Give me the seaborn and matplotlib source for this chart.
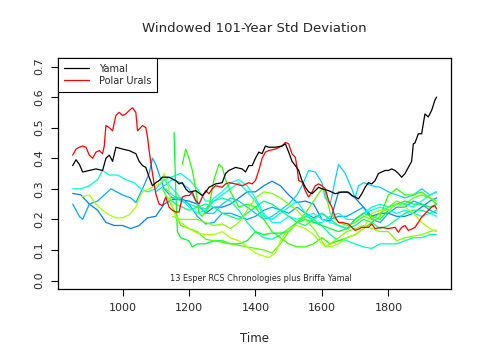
import matplotlib
matplotlib.use('Agg')
import matplotlib.pyplot as plt
import seaborn as sns

# Briffa Yamal and Polar Urals (highlighted)
yamal_yr = [850, 860, 870, 880, 900, 920, 940, 950, 960, 970, 980, 1000, 1020, 1040, 1050, 1060, 1070,
            1080, 1090, 1100, 1110, 1120, 1140, 1160, 1170, 1180, 1190, 1200, 1220, 1240, 1250, 1260,
            1280, 1300, 1310, 1320, 1340, 1360, 1370, 1380, 1390, 1400, 1410, 1420, 1430, 1440, 1460,
            1480, 1490, 1500, 1510, 1520, 1530, 1540, 1550, 1560, 1570, 1580, 1590, 1600, 1620, 1640,
            1660, 1680, 1690, 1700, 1710, 1720, 1730, 1740, 1750, 1760, 1770, 1780, 1790, 1800, 1810,
            1820, 1830, 1840, 1850, 1860, 1870, 1875, 1880, 1890, 1900, 1910, 1920, 1930, 1940, 1945]
yamal_sd = [0.376, 0.395, 0.38, 0.355, 0.36, 0.365, 0.36, 0.40, 0.41, 0.39, 0.436, 0.43, 0.425, 0.415,
            0.39, 0.376, 0.37, 0.338, 0.31, 0.32, 0.327, 0.338, 0.338, 0.327, 0.316, 0.32, 0.30, 0.289,
            0.294, 0.278, 0.289, 0.305, 0.316, 0.32, 0.35, 0.36, 0.37, 0.365, 0.355, 0.376, 0.376, 0.40,
            0.42, 0.415, 0.44, 0.436, 0.436, 0.44, 0.447, 0.42, 0.39, 0.376, 0.36, 0.327, 0.305, 0.29,
            0.284, 0.294, 0.305, 0.30, 0.294, 0.284, 0.289, 0.289, 0.278, 0.273, 0.267, 0.284, 0.305,
            0.32, 0.316, 0.327, 0.35, 0.355, 0.36, 0.36, 0.365, 0.36, 0.35, 0.338, 0.35, 0.37, 0.39,
            0.447, 0.45, 0.48, 0.48, 0.545, 0.535, 0.556, 0.59, 0.60]

urals_yr = [850, 860, 870, 880, 890, 900, 910, 920, 930, 940, 945, 950, 960, 970, 980, 990, 1000, 1010,
            1020, 1030, 1040, 1045, 1050, 1060, 1070, 1075, 1080, 1090, 1100, 1110, 1120, 1130, 1140,
            1150, 1160, 1170, 1180, 1190, 1200, 1210, 1220, 1230, 1240, 1250, 1260, 1270, 1280, 1300,
            1310, 1320, 1340, 1360, 1380, 1390, 1400, 1410, 1420, 1430, 1440, 1460, 1480, 1490, 1500,
            1510, 1520, 1525, 1530, 1540, 1550, 1560, 1570, 1580, 1590, 1600, 1610, 1620, 1630, 1640,
            1650, 1660, 1680, 1690, 1700, 1710, 1720, 1740, 1750, 1760, 1780, 1800, 1820, 1830, 1840,
            1850, 1860, 1870, 1880, 1890, 1900, 1910, 1920, 1930, 1940, 1945]
urals_sd = [0.41, 0.43, 0.436, 0.44, 0.436, 0.41, 0.40, 0.42, 0.425, 0.415, 0.44, 0.507, 0.50, 0.49,
            0.54, 0.55, 0.54, 0.545, 0.556, 0.565, 0.55, 0.49, 0.495, 0.507, 0.50, 0.47, 0.425, 0.35,
            0.284, 0.25, 0.245, 0.273, 0.24, 0.23, 0.224, 0.224, 0.273, 0.278, 0.278, 0.289, 0.262,
            0.25, 0.273, 0.294, 0.284, 0.30, 0.31, 0.305, 0.316, 0.32, 0.316, 0.31, 0.32, 0.316, 0.327,
            0.36, 0.40, 0.42, 0.425, 0.43, 0.44, 0.452, 0.447, 0.414, 0.403, 0.37, 0.327, 0.322, 0.294,
            0.273, 0.289, 0.31, 0.316, 0.31, 0.30, 0.262, 0.24, 0.207, 0.19, 0.19, 0.185, 0.174, 0.164,
            0.168, 0.174, 0.174, 0.185, 0.17, 0.174, 0.17, 0.174, 0.158, 0.174, 0.18, 0.164, 0.168,
            0.174, 0.19, 0.207, 0.218, 0.229, 0.24, 0.245, 0.234]

# other Esper RCS chronologies
e1_yr = [850, 875, 900, 925, 950, 975, 1000, 1025, 1050, 1075, 1100, 1125, 1150, 1175, 1200, 1225,
         1250, 1275, 1300, 1325, 1350, 1375, 1400, 1425, 1450, 1475, 1500, 1525, 1550, 1575, 1600,
         1625, 1650, 1675, 1700, 1725, 1750, 1775, 1800, 1825, 1850, 1875, 1900, 1925, 1945]
e1_sd = [0.285, 0.28, 0.25, 0.23, 0.19, 0.18, 0.18, 0.17, 0.18, 0.205, 0.21, 0.25, 0.265, 0.265, 0.26,
         0.25, 0.22, 0.24, 0.24, 0.25, 0.27, 0.29, 0.29, 0.31, 0.325, 0.31, 0.28, 0.255, 0.26, 0.25,
         0.20, 0.195, 0.29, 0.29, 0.27, 0.24, 0.21, 0.22, 0.22, 0.21, 0.21, 0.22, 0.24, 0.26, 0.27]

e2_yr = [850, 870, 880, 900, 925, 950, 965, 1000, 1025, 1040, 1060, 1080, 1090, 1100, 1125, 1150, 1175,
         1200, 1225, 1250, 1275, 1300, 1325, 1350, 1375, 1400, 1425, 1450, 1475, 1500, 1525, 1550,
         1575, 1600, 1625, 1650, 1675, 1700, 1725, 1750, 1775, 1800, 1825, 1850, 1875, 1900, 1925, 1945]
e2_sd = [0.25, 0.21, 0.20, 0.25, 0.26, 0.285, 0.30, 0.28, 0.27, 0.255, 0.30, 0.35, 0.40, 0.38, 0.30,
         0.27, 0.27, 0.25, 0.21, 0.185, 0.19, 0.22, 0.22, 0.21, 0.20, 0.21, 0.23, 0.24, 0.23, 0.22,
         0.24, 0.22, 0.205, 0.22, 0.20, 0.21, 0.21, 0.225, 0.24, 0.20, 0.19, 0.22, 0.24, 0.24, 0.26,
         0.25, 0.23, 0.22]

e3_yr = [1100, 1125, 1150, 1175, 1200, 1225, 1250, 1275, 1300, 1325, 1350, 1375, 1400, 1425, 1450,
         1475, 1500, 1525, 1540, 1560, 1580, 1600, 1610, 1625, 1640, 1650, 1670, 1690, 1700, 1710,
         1725, 1750, 1775, 1800, 1825, 1850, 1875, 1900, 1925, 1945]
e3_sd = [0.29, 0.31, 0.33, 0.32, 0.30, 0.25, 0.22, 0.22, 0.25, 0.27, 0.26, 0.24, 0.22, 0.20, 0.21,
         0.23, 0.25, 0.28, 0.31, 0.36, 0.355, 0.32, 0.27, 0.25, 0.33, 0.38, 0.35, 0.30, 0.27, 0.31,
         0.32, 0.31, 0.305, 0.29, 0.28, 0.27, 0.28, 0.30, 0.28, 0.29]

e4_yr = [1110, 1125, 1150, 1175, 1200, 1225, 1250, 1275, 1300, 1325, 1350, 1375, 1400, 1425, 1450,
         1475, 1500, 1525, 1550, 1575, 1600, 1625, 1650, 1675, 1700, 1725, 1750, 1775, 1800, 1825,
         1850, 1875, 1900, 1925, 1945]
e4_sd = [0.34, 0.33, 0.30, 0.27, 0.24, 0.22, 0.23, 0.27, 0.29, 0.32, 0.33, 0.31, 0.27, 0.22, 0.19,
         0.19, 0.21, 0.20, 0.21, 0.22, 0.20, 0.19, 0.18, 0.17, 0.20, 0.22, 0.23, 0.24, 0.23, 0.22,
         0.23, 0.22, 0.21, 0.22, 0.21]

e5_yr = [850, 875, 900, 925, 940, 960, 985, 1010, 1035, 1055, 1075, 1100, 1125, 1150, 1175, 1200,
         1225, 1250, 1275, 1300, 1325, 1350, 1375, 1400, 1425, 1450, 1475, 1500, 1525, 1550, 1575,
         1600, 1625, 1650, 1675, 1700, 1725, 1750, 1775, 1800, 1825, 1850, 1875, 1900, 1925, 1945]
e5_sd = [0.30, 0.30, 0.31, 0.33, 0.36, 0.345, 0.345, 0.33, 0.32, 0.30, 0.29, 0.30, 0.33, 0.34, 0.35,
         0.33, 0.30, 0.26, 0.26, 0.28, 0.30, 0.32, 0.29, 0.26, 0.21, 0.20, 0.22, 0.24, 0.26, 0.22,
         0.19, 0.19, 0.21, 0.22, 0.20, 0.20, 0.22, 0.24, 0.25, 0.24, 0.25, 0.25, 0.24, 0.26, 0.28, 0.29]

e6_yr = [1130, 1150, 1175, 1200, 1225, 1250, 1275, 1300, 1325, 1350, 1375, 1400, 1425, 1450, 1475,
         1500, 1525, 1550, 1575, 1600, 1625, 1650, 1675, 1700, 1725, 1750, 1775, 1800, 1825, 1850,
         1875, 1900, 1925, 1945]
e6_sd = [0.30, 0.28, 0.26, 0.25, 0.24, 0.235, 0.26, 0.27, 0.26, 0.23, 0.19, 0.16, 0.14, 0.135, 0.15,
         0.17, 0.19, 0.21, 0.20, 0.18, 0.15, 0.13, 0.13, 0.12, 0.11, 0.105, 0.12, 0.12, 0.12, 0.13,
         0.14, 0.14, 0.15, 0.15]

e7_yr = [1140, 1160, 1180, 1200, 1225, 1250, 1275, 1300, 1325, 1350, 1375, 1400, 1425, 1450, 1475,
         1500, 1525, 1550, 1575, 1600, 1625, 1650, 1675, 1700, 1725, 1750, 1775, 1800, 1825, 1850,
         1875, 1900, 1925, 1945]
e7_sd = [0.27, 0.25, 0.24, 0.23, 0.24, 0.25, 0.24, 0.22, 0.21, 0.20, 0.22, 0.24, 0.26, 0.25, 0.23,
         0.21, 0.19, 0.18, 0.20, 0.22, 0.20, 0.18, 0.17, 0.18, 0.20, 0.19, 0.17, 0.18, 0.20, 0.22,
         0.23, 0.23, 0.22, 0.23]

e8_yr = [1155, 1160, 1165, 1175, 1200, 1210, 1225, 1250, 1275, 1300, 1325, 1350, 1375, 1400, 1425,
         1450, 1475, 1500, 1525, 1550, 1575, 1600, 1625, 1650, 1675, 1700, 1725, 1750, 1775, 1800,
         1825, 1850, 1875, 1900, 1925, 1945]
e8_sd = [0.485, 0.30, 0.16, 0.14, 0.13, 0.11, 0.12, 0.12, 0.13, 0.13, 0.12, 0.12, 0.13, 0.16, 0.15,
         0.155, 0.155, 0.16, 0.19, 0.20, 0.19, 0.18, 0.17, 0.16, 0.17, 0.20, 0.22, 0.21, 0.20, 0.23,
         0.25, 0.26, 0.25, 0.25, 0.24, 0.25]

e9_yr = [1180, 1190, 1200, 1210, 1220, 1230, 1240, 1260, 1275, 1290, 1300, 1310, 1325, 1350, 1375,
         1400, 1425, 1450, 1475, 1500, 1525, 1550, 1575, 1600, 1625, 1650, 1675, 1700, 1725, 1750,
         1775, 1800, 1825, 1850, 1875, 1900, 1925, 1945]
e9_sd = [0.38, 0.43, 0.40, 0.36, 0.30, 0.22, 0.21, 0.24, 0.33, 0.38, 0.37, 0.33, 0.29, 0.24, 0.25,
         0.24, 0.20, 0.16, 0.14, 0.12, 0.11, 0.11, 0.12, 0.14, 0.12, 0.13, 0.14, 0.15, 0.17, 0.19,
         0.21, 0.28, 0.30, 0.28, 0.28, 0.29, 0.27, 0.25]

e10_yr = [1120, 1140, 1160, 1175, 1200, 1225, 1250, 1275, 1300, 1325, 1350, 1375, 1400, 1425, 1450,
          1475, 1500, 1525, 1550, 1575, 1600, 1610, 1625, 1650, 1675, 1700, 1725, 1750, 1775, 1800,
          1825, 1850, 1875, 1900, 1925, 1945]
e10_sd = [0.30, 0.26, 0.22, 0.18, 0.17, 0.16, 0.135, 0.13, 0.125, 0.12, 0.115, 0.11, 0.105, 0.10,
          0.09, 0.12, 0.16, 0.19, 0.22, 0.26, 0.30, 0.29, 0.22, 0.19, 0.18, 0.19, 0.21, 0.20, 0.22,
          0.24, 0.26, 0.25, 0.27, 0.28, 0.27, 0.26]

e11_yr = [1150, 1175, 1200, 1225, 1250, 1275, 1300, 1325, 1350, 1375, 1400, 1425, 1450, 1475, 1500,
          1525, 1550, 1575, 1600, 1610, 1625, 1650, 1675, 1700, 1725, 1750, 1775, 1800, 1825, 1850,
          1875, 1900, 1925, 1945]
e11_sd = [0.21, 0.20, 0.20, 0.20, 0.19, 0.18, 0.185, 0.17, 0.19, 0.23, 0.27, 0.29, 0.285, 0.27, 0.25,
          0.23, 0.20, 0.17, 0.13, 0.11, 0.12, 0.14, 0.16, 0.17, 0.18, 0.17, 0.16, 0.16, 0.13, 0.14,
          0.145, 0.15, 0.16, 0.165]

e12_yr = [880, 900, 920, 940, 960, 980, 1000, 1020, 1040, 1050, 1060, 1080, 1100, 1115, 1125, 1135,
          1150, 1160, 1175, 1200, 1225, 1250, 1275, 1300, 1325, 1350, 1375, 1400, 1425, 1440, 1460,
          1475, 1500, 1525, 1550, 1575, 1600, 1625, 1650, 1675, 1700, 1725, 1750, 1775, 1800, 1825,
          1850, 1875, 1900, 1925, 1945]
e12_sd = [0.275, 0.28, 0.25, 0.23, 0.215, 0.205, 0.205, 0.215, 0.24, 0.27, 0.29, 0.30, 0.31, 0.32,
          0.35, 0.32, 0.24, 0.21, 0.19, 0.17, 0.155, 0.15, 0.15, 0.16, 0.14, 0.13, 0.11, 0.09, 0.08,
          0.075, 0.09, 0.13, 0.17, 0.18, 0.17, 0.15, 0.12, 0.11, 0.12, 0.14, 0.15, 0.17, 0.22, 0.23,
          0.23, 0.25, 0.24, 0.22, 0.19, 0.17, 0.16]

esper = [(e1_yr, e1_sd), (e2_yr, e2_sd), (e3_yr, e3_sd), (e4_yr, e4_sd), (e5_yr, e5_sd),
         (e6_yr, e6_sd), (e7_yr, e7_sd), (e8_yr, e8_sd), (e9_yr, e9_sd), (e10_yr, e10_sd),
         (e11_yr, e11_sd), (e12_yr, e12_sd)]
esper_cols = ["#0080FF", "#00AAFF", "#00D4FF", "#00FFFF", "#00FFD4", "#00FFAA",
              "#00FF80", "#00FF2A", "#2AFF00", "#55FF00", "#80FF00", "#AAFF00"]

sns.set_theme(style="white")
plt.rcParams['font.family'] = ['DejaVu Sans']

fig = plt.figure(figsize=(4.8, 3.6), dpi=100)
ax = fig.add_axes([0.121, 0.197, 0.819, 0.642])

for (yr, sd), c in zip(esper, esper_cols):
    sns.lineplot(x=yr, y=sd, color=c, lw=0.9, ax=ax, estimator=None, legend=False)

sns.lineplot(x=urals_yr, y=urals_sd, color="red", lw=0.9, ax=ax, estimator=None, label="Polar Urals")
sns.lineplot(x=yamal_yr, y=yamal_sd, color="black", lw=0.9, ax=ax, estimator=None, label="Yamal")

ax.set_xlim(806, 1989)
ax.set_ylim(-0.028, 0.728)
ax.set_xticks([1000, 1200, 1400, 1600, 1800])
ax.set_yticks([0.0, 0.1, 0.2, 0.3, 0.4, 0.5, 0.6, 0.7])
ax.set_yticklabels(["0.0", "0.1", "0.2", "0.3", "0.4", "0.5", "0.6", "0.7"], rotation=90, va="center")
ax.tick_params(axis="both", direction="out", length=5, width=0.8, color="black",
               labelsize=8, pad=5, bottom=True, left=True)
for s in ax.spines.values():
    s.set_color("black")
    s.set_linewidth(0.9)

ax.set_xlabel("Time", fontsize=8.5, labelpad=14)
ax.set_ylabel("")
ax.set_title("Windowed 101-Year Std Deviation", fontsize=9.5, pad=19)
ax.text(1417, 0.007, "13 Esper RCS Chronologies plus Briffa Yamal", ha="center", va="center", fontsize=5.9)

h, l = ax.get_legend_handles_labels()
leg = ax.legend(h[::-1], l[::-1], loc="upper left", borderaxespad=0, fancybox=False,
                edgecolor="black", framealpha=1, fontsize=7, handlelength=2.6,
                handletextpad=1.0, borderpad=0.6, labelspacing=0.2)
leg.get_frame().set_linewidth(0.8)
leg._legend_box.align = "left"

fig.savefig("out.png", dpi=100)
